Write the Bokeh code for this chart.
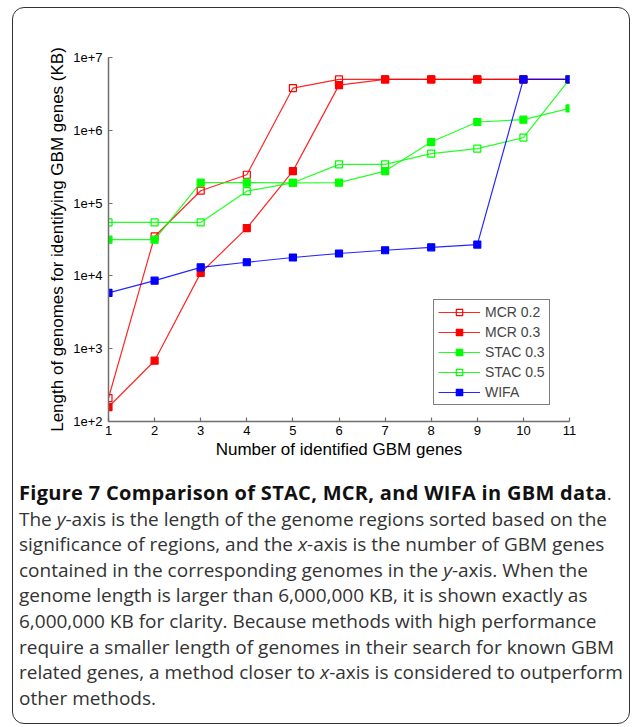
from bokeh.plotting import figure
from bokeh.models import Range1d, FixedTicker, CustomJSTickFormatter, Div
from bokeh.layouts import column
from bokeh.embed import file_html
from bokeh.resources import INLINE

# ---- data ----
genes = [1, 2, 3, 4, 5, 6, 7, 8, 9, 10, 11]
mcr_02 = [210, 34800, 148000, 245000, 3.8e6, 5.0e6, 5.0e6, 5.0e6, 5.0e6, 5.0e6, 5.0e6]
mcr_03 = [158, 684, 11000, 45400, 275000, 4.17e6, 5.0e6, 5.0e6, 5.0e6, 5.0e6, 5.0e6]
stac_03 = [31400, 31400, 191000, 191000, 190000, 191000, 275000, 690000, 1.3e6, 1.4e6, 2.0e6]
stac_05 = [54300, 54300, 54300, 146000, 190000, 340000, 340000, 478000, 560000, 794000, 5.0e6]
wifa = [5840, 8610, 13100, 15400, 17900, 20300, 22500, 24700, 26900, 5.0e6, 5.0e6]
y_ticks = [1e2, 1e3, 1e4, 1e5, 1e6, 1e7]
x_ticks = genes

FONT = "Liberation Sans"

p = figure(
    output_backend="svg", toolbar_location=None,
    y_axis_type="log",
    x_range=Range1d(1, 11), y_range=Range1d(1e2, 1e7),
    frame_width=461, frame_height=364,
    min_border_left=95, min_border_right=40,
    min_border_top=49, min_border_bottom=59,
)
p.outline_line_color = None
p.xgrid.visible = False
p.ygrid.visible = False
p.background_fill_color = None
p.border_fill_color = None

for ax in (p.xaxis[0], p.yaxis[0]):
    ax.axis_line_color = "#6e6e6e"
    ax.axis_line_width = 1.5
    ax.major_tick_line_color = "#6e6e6e"
    ax.major_tick_line_width = 1.2
    ax.major_tick_in = 4
    ax.major_tick_out = 0
    ax.minor_tick_line_color = None
    ax.major_label_text_font = FONT
    ax.major_label_text_font_size = "13px"
    ax.major_label_text_color = "black"
    ax.axis_label_text_font = FONT
    ax.axis_label_text_font_size = "17px"
    ax.axis_label_text_font_style = "normal"
    ax.axis_label_text_color = "black"

p.xaxis.ticker = FixedTicker(ticks=x_ticks)
p.yaxis.ticker = FixedTicker(ticks=y_ticks)
p.yaxis.formatter = CustomJSTickFormatter(code="return '1e+' + Math.round(Math.log10(tick));")
p.xaxis.major_label_standoff = 4
p.yaxis.major_label_standoff = 6
p.xaxis.axis_label = "Number of identified GBM genes"
p.yaxis.axis_label = "Length of genomes for identifying GBM genes (KB)"
p.xaxis.axis_label_standoff = 2
p.yaxis.axis_label_standoff = 3

series = [
    ("MCR 0.2", mcr_02, "#ff0000", False),
    ("MCR 0.3", mcr_03, "#ff0000", True),
    ("STAC 0.3", stac_03, "#00ff00", True),
    ("STAC 0.5", stac_05, "#00ff00", False),
    ("WIFA", wifa, "#0000ff", True),
]
for name, ys, col, filled in series:
    p.line(genes, ys, line_color=col, line_width=1.2, line_alpha=0.85, legend_label=name)
    p.scatter(genes, ys, marker="square", size=7, line_color=col,
              fill_color=col if filled else None, line_width=1.2,
              legend_label=name)

lg = p.legend[0]
lg.location = (325, 16)
lg.border_line_color = "black"
lg.border_line_width = 1.5
lg.background_fill_color = "white"
lg.background_fill_alpha = 1
lg.label_text_font = FONT
lg.label_text_font_size = "14px"
lg.glyph_width = 42
lg.glyph_height = 16
lg.label_height = 16
lg.spacing = 4
lg.padding = 4
lg.label_standoff = 5
lg.margin = 0

caption_html = (
    "<b style='color:#111; font-size:20px; letter-spacing:0.3px'>"
    "Figure 7 Comparison of STAC, MCR, and WIFA in GBM data</b>.<br>"
    "The <i>y</i>-axis is the length of the genome regions sorted based on the<br>"
    "significance of regions, and the <i>x</i>-axis is the number of GBM genes<br>"
    "contained in the corresponding genomes in the <i>y</i>-axis. When the<br>"
    "genome length is larger than 6,000,000 KB, it is shown exactly as<br>"
    "6,000,000 KB for clarity. Because methods with high performance<br>"
    "require a smaller length of genomes in their search for known GBM<br>"
    "related genes, a method closer to <i>x</i>-axis is considered to outperform<br>"
    "other methods."
)
cap = Div(
    text=caption_html, margin=0, width=616, height=243,
    styles={"font-family": "'Open Sans'", "font-size": "19px",
            "line-height": "25.6px", "color": "#333", "white-space": "nowrap",
            "padding-left": "6px"},
)

layout = column(
    p, cap, margin=0,
    styles={"border": "1.5px solid #333", "border-radius": "12px",
            "overflow": "hidden", "margin-top": "7px", "margin-left": "12px"},
)

open("out.html", "w").write(file_html(layout, INLINE))
